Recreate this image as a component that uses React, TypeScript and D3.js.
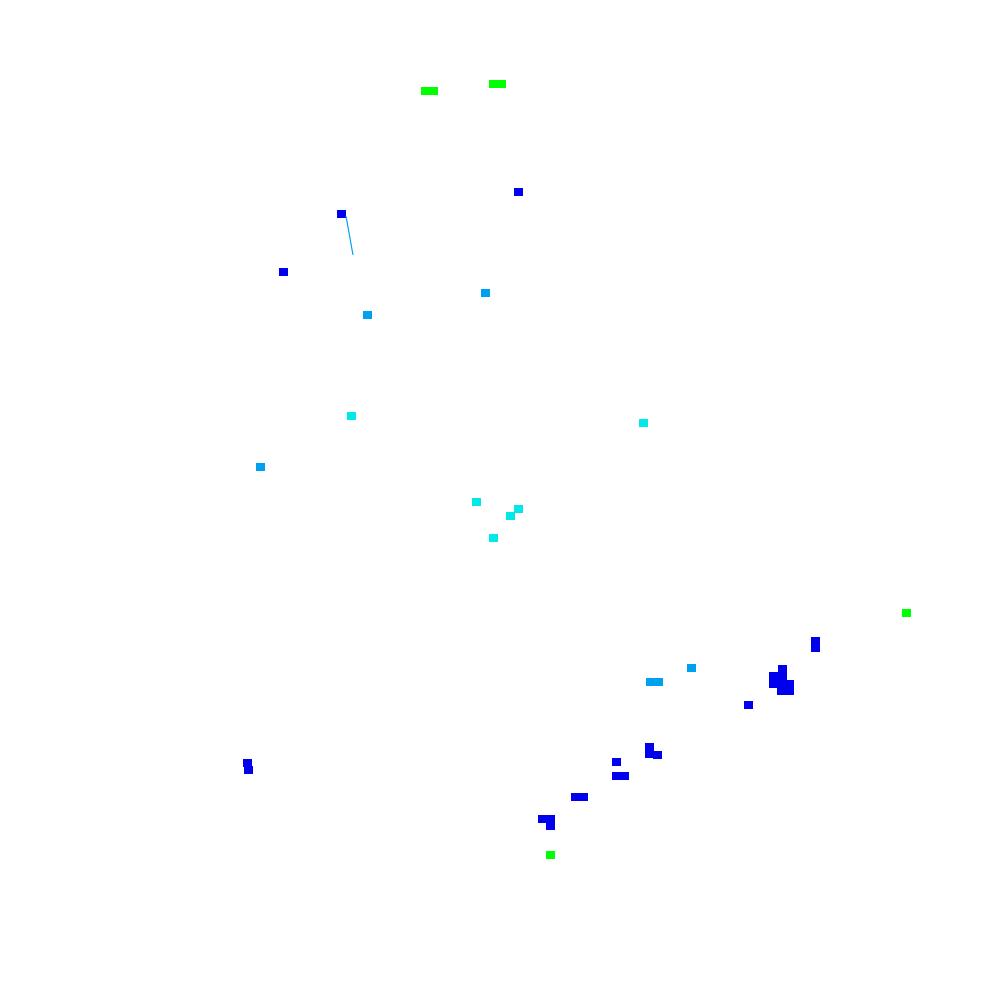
import React from "react";
import * as d3 from "d3";

// cell positions (chart units) and value class (0=blue,1=light blue,2=cyan,3=green)
const cellX = [421, 429, 489, 497, 902, 546,
  514, 337, 279, 811, 811, 778, 778, 769, 769, 777, 785, 777, 785, 744, 645, 645, 653, 612, 612, 620, 571, 579, 538, 546, 546, 243, 244,
  481, 363, 256, 687, 646, 654,
  347, 639, 472, 514, 506, 489];
const cellY = [87, 87, 80, 80, 609, 851,
  188, 210, 268, 637, 644, 665, 672, 672, 680, 680, 680, 687, 687, 701, 743, 750, 751, 758, 772, 772, 793, 793, 815, 815, 822, 759, 766,
  289, 311, 463, 664, 678, 678,
  412, 419, 498, 505, 512, 534];
const cellV = [3, 3, 3, 3, 3, 3,
  0, 0, 0, 0, 0, 0, 0, 0, 0, 0, 0, 0, 0, 0, 0, 0, 0, 0, 0, 0, 0, 0, 0, 0, 0, 0, 0,
  1, 1, 1, 1, 1, 1,
  2, 2, 2, 2, 2, 2];
const classes = [0, 1, 2, 3];
const palette = ["#0000ee", "#00a0f0", "#00e8e8", "#00ff00"];

// thin segment
const lineX = [346, 353];
const lineY = [216, 255];

const W = 1000;
const H = 1000;

export default function App() {
  const x = d3.scaleLinear().domain([0, 1000]).range([0, W]);
  const y = d3.scaleLinear().domain([0, 1000]).range([0, H]);
  const color = d3.scaleOrdinal<number, string>().domain(classes).range(palette);
  const cw = x(8.6) - x(0);
  const ch = y(7.6) - y(0);
  const line = d3.line<number>().x((_, i) => x(lineX[i])).y((_, i) => y(lineY[i]));
  return (
    <svg width={W} height={H} style={{ position: "absolute", left: 0, top: 0, display: "block", background: "#fff" }}>
      <g shapeRendering="crispEdges">
        {cellX.map((cx, i) => (
          <rect key={i} x={x(cx)} y={y(cellY[i])} width={cw} height={ch} fill={color(cellV[i])} />
        ))}
      </g>
      <path d={line(lineX) || ""} stroke={palette[1]} strokeWidth={1.2} fill="none" />
    </svg>
  );
}
